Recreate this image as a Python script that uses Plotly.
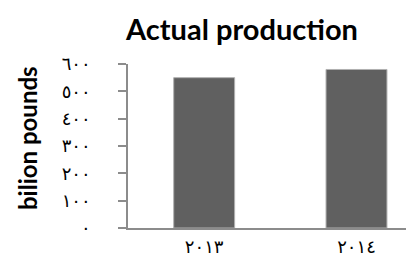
import plotly.graph_objects as go

categories = ["2013", "2014"]
category_labels = ["٢٠١٣", "٢٠١٤"]
production = [550, 580]
y_tick_values = [0, 100, 200, 300, 400, 500, 600]
y_tick_labels = ["٠", "١٠٠", "٢٠٠", "٣٠٠", "٤٠٠", "٥٠٠", "٦٠٠"]
y_title = "bilion pounds"

fig = go.Figure(
    go.Bar(
        x=categories,
        y=production,
        width=0.4,
        marker=dict(color="#606060", line=dict(color="#b0b0b0", width=1)),
    )
)

fig.update_layout(
    width=414,
    height=261,
    margin=dict(l=120, r=0, t=56, b=41),
    paper_bgcolor="white",
    plot_bgcolor="white",
    showlegend=False,
    title=dict(
        text="<b>Actual production</b>",
        x=234 / 414,
        xanchor="center",
        xref="container",
        y=1 - 22 / 261,
        yanchor="middle",
        yref="container",
        font=dict(family="Lato", size=29, color="black"),
    ),
    annotations=[
        dict(
            text=f"<b>{y_title}</b>",
            textangle=-90,
            xref="paper",
            yref="paper",
            x=(19 - 120) / 294,
            y=(220 - 130) / 164,
            xanchor="center",
            yanchor="middle",
            showarrow=False,
            font=dict(family="Lato", size=24, color="black"),
        )
    ],
)

fig.update_xaxes(
    type="category",
    tickvals=categories,
    ticktext=category_labels,
    range=[-0.5, 1.43],
    showline=True,
    linecolor="#8c8c8c",
    linewidth=1.5,
    ticks="",
    showgrid=False,
    tickfont=dict(family="DejaVu Sans", size=18, color="black"),
    ticklabelstandoff=2,
)

fig.update_yaxes(
    range=[0, 600],
    tickvals=y_tick_values,
    ticktext=y_tick_labels,
    showline=True,
    linecolor="#8c8c8c",
    linewidth=1.5,
    ticks="outside",
    ticklen=8,
    tickcolor="#8c8c8c",
    tickwidth=1.5,
    showgrid=False,
    zeroline=False,
    tickfont=dict(family="DejaVu Sans", size=18, color="black"),
    ticklabelstandoff=24,
)

fig.write_html("out.html")
